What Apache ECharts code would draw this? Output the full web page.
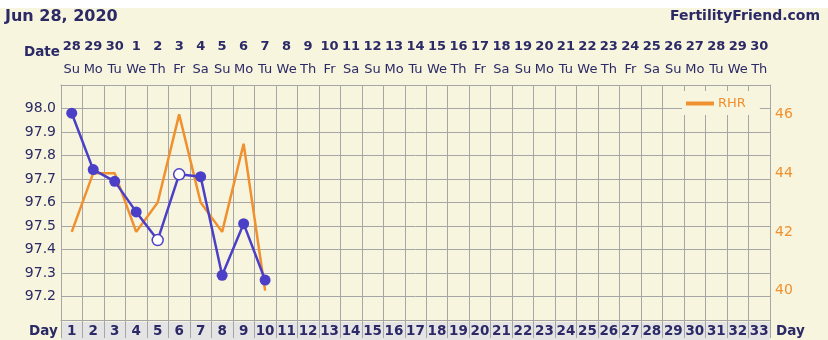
<!DOCTYPE html>
<html>
<head>
<meta charset="utf-8">
<script src="https://cdn.jsdelivr.net/npm/echarts@6/dist/echarts.min.js"></script>
<style>
html,body{margin:0;padding:0;background:#ffffff;}
#chart{width:828px;height:340px;}
</style>
</head>
<body>
<div id="chart"></div>
<script>
// ---- data ----
const dayNums = [1,2,3,4,5,6,7,8,9,10,11,12,13,14,15,16,17,18,19,20,21,22,23,24,25,26,27,28,29,30,31,32,33];
const dateNums = [28,29,30,1,2,3,4,5,6,7,8,9,10,11,12,13,14,15,16,17,18,19,20,21,22,23,24,25,26,27,28,29,30];
const weekdays = ['Su','Mo','Tu','We','Th','Fr','Sa','Su','Mo','Tu','We','Th','Fr','Sa','Su','Mo','Tu','We','Th','Fr','Sa','Su','Mo','Tu','We','Th','Fr','Sa','Su','Mo','Tu','We','Th'];
const bbt = [97.98, 97.74, 97.69, 97.56, 97.44, 97.72, 97.71, 97.29, 97.51, 97.27];
const bbtOpen = [false, false, false, false, true, true, false, false, false, false];
const rhr = [42, 44, 44, 42, 43, 46, 43, 42, 45, 40];
const tempTickLabels = ['97.2','97.3','97.4','97.5','97.6','97.7','97.8','97.9','98.0'];
const rhrTickLabels = ['40','42','44','46'];
const titleText = 'Jun 28, 2020';
const siteText = 'FertilityFriend.com';

// ---- styles ----
const NAVY = '#2b2966';
const BLUE = '#4b3fc7';
const ORANGE = '#f0902e';
const GRIDC = '#a6a6a6';
const BG = '#f7f5dd';
const FONT = 'DejaVu Sans';

const chart = echarts.init(document.getElementById('chart'), null, {renderer: 'canvas'});

const bbtData = bbt.map((v, i) => bbtOpen[i]
  ? {value: v, symbolSize: 11, itemStyle: {color: '#ffffff', borderColor: BLUE, borderWidth: 1.5}}
  : {value: v});

const option = {
  animation: false,
  backgroundColor: BG,
  textStyle: {fontFamily: FONT},
  title: [
    {text: titleText, left: 5, top: 9, padding: 0, textStyle: {fontFamily: FONT, fontSize: 16, fontWeight: 'bold', color: NAVY}},
    {text: siteText, right: 8, top: 9, padding: 0, textStyle: {fontFamily: FONT, fontSize: 14, fontWeight: 'bold', color: NAVY}},
    {text: 'Date', left: 24, top: 45, padding: 0, textStyle: {fontFamily: FONT, fontSize: 13.5, fontWeight: 'bold', color: NAVY}},
    {text: 'Day', left: 29, top: 324, padding: 0, textStyle: {fontFamily: FONT, fontSize: 13.5, fontWeight: 'bold', color: NAVY}},
    {text: 'Day', left: 776, top: 324, padding: 0, textStyle: {fontFamily: FONT, fontSize: 13.5, fontWeight: 'bold', color: NAVY}}
  ],
  graphic: [
    {type: 'rect', z: -10, shape: {x: 0, y: 0, width: 828, height: 8}, style: {fill: '#ffffff'}},
    {type: 'rect', z: -10, shape: {x: 61, y: 322, width: 709, height: 18}, style: {fill: '#e4e4e5'}}
  ],
  legend: {
    data: ['RHR'],
    left: 682, top: 91,
    padding: [6, 14, 5, 4],
    backgroundColor: BG,
    icon: 'rect',
    itemWidth: 28, itemHeight: 4, itemGap: 4,
    textStyle: {color: ORANGE, fontSize: 13, fontFamily: FONT, padding: [0,0,0,-1]}
  },
  grid: {left: 61, right: 58, top: 85, bottom: 18, containLabel: false},
  xAxis: [
    {
      type: 'category', position: 'bottom', data: dayNums, boundaryGap: true,
      axisLine: {show: true, lineStyle: {color: GRIDC, width: 1}},
      axisTick: {show: true, length: 18, lineStyle: {color: GRIDC, width: 1}},
      axisLabel: {color: NAVY, fontWeight: 'bold', fontSize: 13.5, fontFamily: FONT, margin: 2, lineHeight: 18, interval: 0},
      splitLine: {show: true, interval: 0, lineStyle: {color: GRIDC, width: 1}}
    },
    {
      type: 'category', position: 'top', data: dayNums.map((d, i) => i), boundaryGap: true,
      axisLine: {show: true, lineStyle: {color: GRIDC, width: 1}},
      axisTick: {show: false},
      axisLabel: {
        interval: 0, margin: 4,
        formatter: (v, i) => '{d|' + dateNums[i] + '}\n{w|' + weekdays[i] + '}',
        rich: {
          d: {color: NAVY, fontWeight: 'bold', fontSize: 13, fontFamily: FONT, lineHeight: 23},
          w: {color: NAVY, fontSize: 13, fontFamily: FONT, lineHeight: 23}
        }
      },
      splitLine: {show: false}
    }
  ],
  yAxis: [
    {
      type: 'value', position: 'left', min: 97.1, max: 98.1, interval: 0.1,
      axisLine: {show: true, lineStyle: {color: GRIDC}},
      axisTick: {show: false},
      axisLabel: {
        color: NAVY, fontSize: 14, fontFamily: FONT, margin: 5,
        formatter: v => { const s = v.toFixed(1); return tempTickLabels.indexOf(s) >= 0 ? s : ''; }
      },
      splitLine: {show: true, lineStyle: {color: GRIDC, width: 1}}
    },
    {
      type: 'value', position: 'right', min: 39, max: 47, interval: 1,
      axisLine: {show: true, lineStyle: {color: GRIDC}},
      axisTick: {show: false},
      axisLabel: {
        color: ORANGE, fontSize: 14, fontFamily: FONT, margin: 5,
        formatter: v => { const s = String(Math.round(v)); return rhrTickLabels.indexOf(s) >= 0 ? s : ''; }
      },
      splitLine: {show: false}
    }
  ],
  series: [
    {
      name: 'RHR', type: 'line', xAxisIndex: 0, yAxisIndex: 1, data: rhr,
      showSymbol: false, symbol: 'none', z: 2,
      lineStyle: {color: ORANGE, width: 2.5}, itemStyle: {color: ORANGE}
    },
    {
      name: 'BBT', type: 'line', xAxisIndex: 0, yAxisIndex: 0, data: bbtData,
      symbol: 'circle', symbolSize: 11, showSymbol: true, z: 3,
      lineStyle: {color: BLUE, width: 2.5}, itemStyle: {color: BLUE}
    }
  ]
};
chart.setOption(option);
</script>
</body>
</html>
